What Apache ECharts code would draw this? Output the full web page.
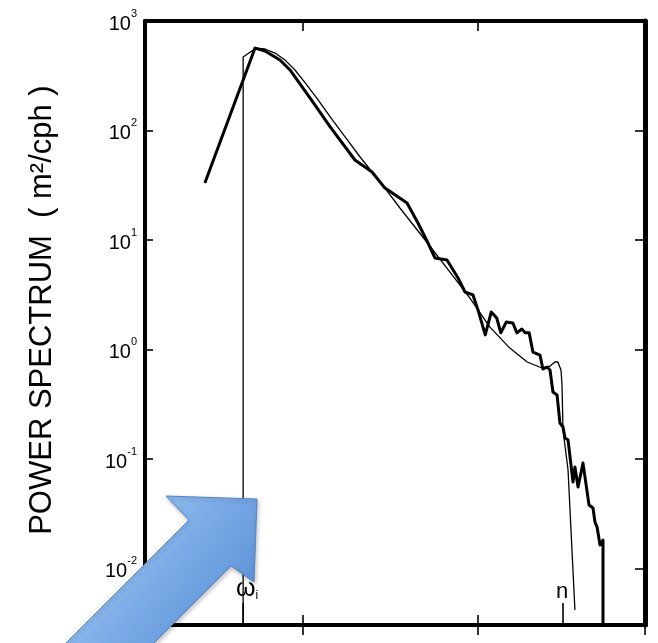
<!DOCTYPE html>
<html>
<head>
<meta charset="utf-8">
<script src="https://cdn.jsdelivr.net/npm/echarts@6/dist/echarts.min.js"></script>
<style>
  html, body { margin: 0; padding: 0; background: #fff; }
  #chart { width: 658px; height: 643px; }
</style>
</head>
<body>
<div id="chart"></div>
<script>
// Frequency axis range (cph) and power axis range (m^2/cph)
const freqMin = 0.01251;
const freqMax = 9.0;
const powerMin = 0.00305;
const powerMax = 1000;

// Observed spectrum (thick line)
const freqObs = [0.0275, 0.0532, 0.0607, 0.0739, 0.0843, 0.0961, 0.114, 0.143, 0.198, 0.248,
  0.294, 0.393, 0.454, 0.518, 0.568, 0.665, 0.769, 0.843, 0.936, 1.00,
  1.10, 1.19, 1.28, 1.35, 1.45, 1.58, 1.67, 1.78, 1.86, 1.96,
  2.06, 2.26, 2.35, 2.48, 2.58, 2.68, 2.83, 2.94, 3.06, 3.14,
  3.27, 3.49, 3.58, 3.73, 3.98, 4.31, 4.54, 4.66, 4.79, 4.98,
  5.18, 5.18];
const powerObs = [33.2, 566, 532, 441, 357, 266, 182, 108, 53.8, 41.8,
  29.8, 21.8, 14.3, 9.39, 6.85, 6.57, 4.50, 3.35, 3.15, 2.30,
  1.36, 2.20, 1.94, 1.42, 1.78, 1.75, 1.42, 1.54, 1.42, 1.42,
  0.949, 0.891, 0.664, 0.692, 0.650, 0.409, 0.384, 0.213, 0.196, 0.156,
  0.149, 0.0617, 0.0846, 0.0555, 0.0918, 0.0380, 0.0357, 0.0266, 0.0239, 0.0164,
  0.0182, 0.00305];

// Model spectrum (thin line), zero below the inertial frequency
const freqModel = [0.0455, 0.0455, 0.0539, 0.0607, 0.0692, 0.0789, 0.0900, 0.103, 0.122, 0.143,
  0.174, 0.212, 0.248, 0.294, 0.358, 0.485, 0.692, 0.899, 1.17, 1.52,
  1.91, 2.32, 2.58, 2.75, 2.86, 2.98, 3.02, 3.06, 3.27, 3.58];
const powerModel = [0.00305, 469, 566, 555, 510, 441, 357, 272, 190, 133,
  87.3, 57.3, 41.8, 29.8, 19.6, 10.6, 5.10, 2.95, 1.60, 1.03,
  0.769, 0.678, 0.707, 0.769, 0.769, 0.650, 0.474, 0.184, 0.0794, 0.00418];

// Frequency markers on the bottom axis
const omegaI = 0.0455;   // inertial frequency
const nFreq = 3.06;      // buoyancy frequency
const markerTop = 0.00484;

const zip = (xs, ys) => xs.map((x, i) => [x, ys[i]]);

function powerLabel(v) {
  const e = Math.log10(v);
  const r = Math.round(e);
  if (Math.abs(e - r) > 1e-6) return '';
  return '{b|10}{e|' + String(r) + '}';
}

const FONT = 'Liberation Sans, Arial, Helvetica, sans-serif';

const chart = echarts.init(document.getElementById('chart'));

const logX = {
  type: 'log', logBase: 10, min: freqMin, max: freqMax, gridIndex: 0,
  splitLine: { show: false }, axisLabel: { show: false }
};
const logY = {
  type: 'log', logBase: 10, min: powerMin, max: powerMax, gridIndex: 0,
  splitLine: { show: false }
};

// marker tick on the frequency axis with its label at the top end
function markerSeries(name, freq, label) {
  return {
    name: name, type: 'line', xAxisIndex: 0, yAxisIndex: 0,
    symbol: 'circle', symbolSize: 1, showSymbol: true,
    itemStyle: { color: 'rgba(0,0,0,0)' },
    lineStyle: { color: '#000', width: 1.6 },
    label: { show: false },
    data: [
      [freq, powerMin],
      { value: [freq, markerTop], label: label }
    ]
  };
}

chart.setOption({
  backgroundColor: '#ffffff',
  animation: false,
  grid: { left: 145, right: 13, top: 21, bottom: 18, containLabel: false },
  xAxis: [
    Object.assign({}, logX, {
      position: 'bottom',
      axisLine: { show: true, lineStyle: { color: '#000', width: 4 } },
      axisTick: { show: true, inside: true, length: 10, lineStyle: { color: '#000', width: 1.6 } }
    }),
    Object.assign({}, logX, {
      position: 'bottom',
      axisLine: { show: false },
      axisTick: { show: true, inside: false, length: 10, lineStyle: { color: '#000', width: 1.6 } }
    }),
    Object.assign({}, logX, {
      position: 'top',
      axisLine: { show: true, lineStyle: { color: '#000', width: 4 } },
      axisTick: { show: true, inside: true, length: 10, lineStyle: { color: '#000', width: 1.6 } }
    })
  ],
  yAxis: [
    Object.assign({}, logY, {
      position: 'left',
      name: '   POWER SPECTRUM  ( m²/cph )',
      nameLocation: 'middle',
      nameGap: 87,
      nameTextStyle: { fontFamily: FONT, fontSize: 31, color: '#000' },
      axisLine: { show: true, lineStyle: { color: '#000', width: 4 } },
      axisTick: { show: true, inside: true, length: 8, lineStyle: { color: '#000', width: 1.6 } },
      axisLabel: {
        show: true, margin: 8, color: '#000',
        formatter: powerLabel,
        rich: {
          b: { fontFamily: FONT, fontSize: 20, color: '#000', lineHeight: 26, verticalAlign: 'bottom' },
          e: { fontFamily: FONT, fontSize: 11, color: '#000', verticalAlign: 'top' }
        }
      }
    }),
    Object.assign({}, logY, {
      position: 'right',
      axisLine: { show: true, lineStyle: { color: '#000', width: 5 } },
      axisTick: { show: true, inside: true, length: 10, lineStyle: { color: '#000', width: 1.6 } },
      axisLabel: { show: false }
    })
  ],
  series: [
    {
      name: 'model', type: 'line', xAxisIndex: 0, yAxisIndex: 0,
      data: zip(freqModel, powerModel),
      symbol: 'none', lineStyle: { color: '#000', width: 1.3 }, z: 3
    },
    {
      name: 'observed', type: 'line', xAxisIndex: 0, yAxisIndex: 0,
      data: zip(freqObs, powerObs),
      symbol: 'none', lineStyle: { color: '#000', width: 3, join: 'round' }, z: 4
    },
    markerSeries('omega_i', omegaI, {
      show: true, position: 'top', distance: 1, offset: [4, 0],
      formatter: '{w|ω}{s|i}',
      rich: {
        w: { fontFamily: FONT, fontSize: 25, color: '#000', lineHeight: 22, verticalAlign: 'bottom' },
        s: { fontFamily: FONT, fontSize: 12, color: '#000', verticalAlign: 'bottom' }
      }
    }),
    markerSeries('n', nFreq, {
      show: true, position: 'top', distance: 0, offset: [-1, 0],
      formatter: 'n',
      fontFamily: FONT, fontSize: 22, color: '#000'
    })
  ],
  graphic: [
    {
      type: 'polygon',
      z: 100,
      shape: {
        points: [[257, 499], [254, 582], [231, 566], [129, 668], [41, 668], [189, 520], [166, 496]]
      },
      style: {
        fill: {
          type: 'linear', x: 0, y: 0, x2: 1, y2: 1,
          colorStops: [
            { offset: 0, color: '#b6d5f8' },
            { offset: 0.55, color: '#78a9e6' },
            { offset: 1, color: '#4a84cf' }
          ]
        },
        stroke: '#5585c4',
        lineWidth: 1,
        shadowBlur: 4,
        shadowOffsetX: 1,
        shadowOffsetY: 2,
        shadowColor: 'rgba(0,0,0,0.25)'
      }
    }
  ]
});
</script>
</body>
</html>
